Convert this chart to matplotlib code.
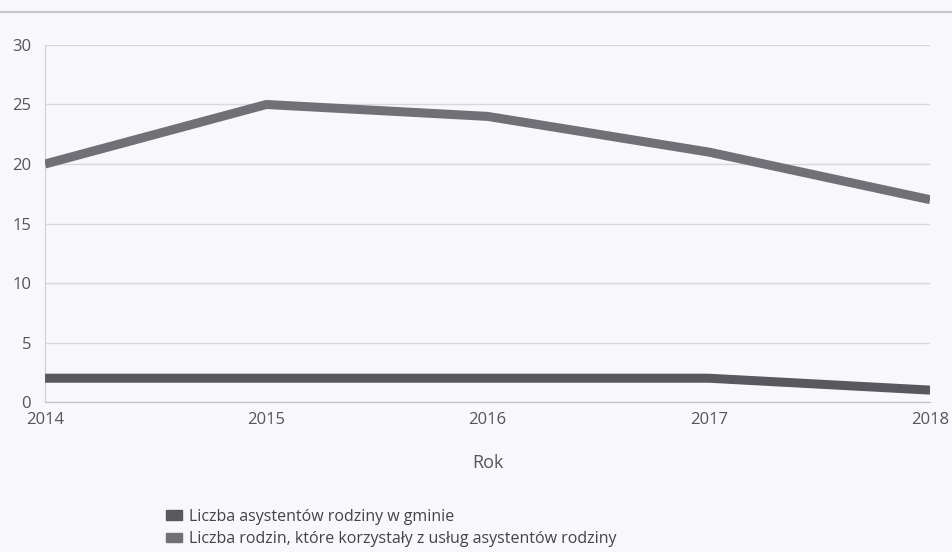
import matplotlib
matplotlib.use("Agg")
import matplotlib.pyplot as plt
from matplotlib.lines import Line2D
from matplotlib.patches import Patch

years = [2014, 2015, 2016, 2017, 2018]
asystenci = [2, 2, 2, 2, 1]
rodziny = [20, 25, 24, 21, 17]
labels = ["Liczba asystentów rodziny w gminie",
          "Liczba rodzin, które korzystały z usług asystentów rodziny"]
colors = ["#58585e", "#707076"]

plt.rcParams['font.family'] = ['Open Sans', 'DejaVu Sans']

fig = plt.figure(figsize=(9.52, 5.52), dpi=100, facecolor="#f8f8fa")
ax = fig.add_axes([0.0473, 0.2717, 0.9297, 0.6468])
ax.set_facecolor("#f8f8fa")

ax.plot(years, asystenci, color=colors[0], lw=6.5, solid_capstyle="butt", zorder=3)
ax.plot(years, rodziny, color=colors[1], lw=6.5, solid_capstyle="butt", zorder=3)

ax.set_xlim(2014, 2018)
ax.set_ylim(0, 30)
ax.set_xticks(years)
ax.set_yticks(range(0, 31, 5))
ax.grid(axis="y", color="#d8d8dc", lw=1)
ax.set_axisbelow(True)
for s in ["top", "right"]:
    ax.spines[s].set_visible(False)
ax.spines["left"].set_color("#cfcfd3")
ax.spines["bottom"].set_color("#bdbdc2")
ax.tick_params(length=0, colors="#555558", labelsize=12)
ax.tick_params(axis="x", pad=7)
ax.tick_params(axis="y", pad=10)
ax.set_xlabel("Rok", fontsize=13, color="#555558", labelpad=19)

fig.add_artist(Line2D([0, 1], [0.978, 0.978], color="#c8c8cc", lw=1.5))

handles = [Patch(color=c) for c in colors]
fig.legend(handles, labels, loc="upper left", bbox_to_anchor=(0.168, 0.09),
           frameon=False, fontsize=11.5, labelcolor="#444448",
           handlelength=1.0, handleheight=0.5, handletextpad=0.4,
           labelspacing=0.4, borderaxespad=0)

fig.savefig("out.png", dpi=100, facecolor=fig.get_facecolor())
